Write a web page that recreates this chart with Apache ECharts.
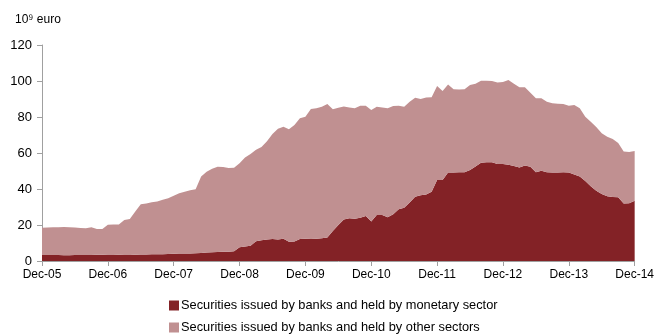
<!DOCTYPE html>
<html>
<head>
<meta charset="utf-8">
<script src="https://cdn.jsdelivr.net/npm/echarts@6/dist/echarts.min.js"></script>
<style>html,body{margin:0;padding:0;background:#fff;}#c{width:657px;height:334px;}</style>
</head>
<body>
<div id="c"></div>
<script>
// Monthly categories Dec-05 .. Dec-14
const monthNames = ['Jan','Feb','Mar','Apr','May','Jun','Jul','Aug','Sep','Oct','Nov','Dec'];
const categories = ['Dec-05'];
for (let y = 6; y <= 14; y++) {
  for (let m = 0; m < 12; m++) {
    categories.push(monthNames[m] + '-' + (y < 10 ? '0' + y : '' + y));
  }
}

const seriesNames = [
  'Securities issued by banks and held by monetary sector',
  'Securities issued by banks and held by other sectors'
];

// 10^9 euro
const monetarySector = [
  3.3,3.3,3.3,3.3,3.2,3.2,3.3,3.3,3.4,3.4,3.5,3.5,
  3.6,3.6,3.5,3.4,3.4,3.5,3.6,3.6,3.7,3.8,3.8,3.9,
  4.0,4.1,4.2,4.2,4.3,4.5,4.7,4.9,5.0,5.1,5.2,5.4,
  7.6,8.0,8.5,11.0,11.5,12.0,12.2,12.0,12.4,10.7,10.8,12.2,
  12.4,12.2,12.3,12.7,13.0,16.7,20.0,23.0,23.7,23.5,24.0,25.0,
  21.9,25.6,25.6,24.3,26.0,28.7,29.6,32.5,35.7,36.5,37.0,38.5,
  45.0,45.0,49.1,49.2,49.3,49.3,50.6,52.5,54.6,54.8,54.8,53.9,
  53.9,53.5,52.8,52.0,53.1,52.4,49.3,50.2,49.3,49.1,49.2,49.3,
  49.1,48.0,47.0,44.5,41.5,39.0,37.2,36.0,35.6,35.4,32.0,32.1,
  33.5
];
const otherSectors = [
  15.2,15.3,15.4,15.5,15.7,15.6,15.3,15.0,14.8,15.3,14.3,14.3,
  16.6,16.7,16.8,19.4,19.9,24.0,27.9,28.4,28.9,29.2,30.2,30.9,
  32.3,33.5,34.3,35.1,35.5,42.5,44.9,46.3,47.4,47.1,46.5,46.4,
  46.7,49.5,51.0,50.8,51.8,54.5,58.3,61.5,62.2,62.5,64.8,67.1,
  67.8,72.2,72.5,73.0,74.2,67.6,65.2,62.9,61.6,61.3,62.3,61.3,
  62.0,60.1,59.7,60.5,60.1,57.6,56.1,56.0,55.0,53.5,53.9,52.5,
  52.2,49.4,49.0,46.2,46.0,46.1,47.2,46.0,45.6,45.4,45.2,45.2,
  45.6,47.1,45.7,44.5,43.4,41.1,41.1,40.2,39.2,38.5,38.1,37.9,
  37.2,38.7,37.8,35.7,35.9,35.5,33.8,33.0,32.2,30.1,28.8,28.5,
  27.6
];

const yTicks = [0, 20, 40, 60, 80, 100, 120];
const unitLabel = '10\u2079 euro';

const chart = echarts.init(document.getElementById('c'), null, {renderer: 'canvas'});
const font = 'Arial, "Liberation Sans", sans-serif';
const legendBase = {
  orient: 'vertical',
  left: 169,
  itemWidth: 10, itemHeight: 10,
  icon: 'rect',
  padding: 0,
  textStyle: {fontSize: 12.8, color: '#000', fontFamily: font, padding: [0,0,0,-3]}
};
chart.setOption({
  animation: false,
  backgroundColor: '#ffffff',
  textStyle: {fontFamily: font},
  title: {
    text: unitLabel,
    left: 10, top: 9,
    textStyle: {fontSize: 12, fontWeight: 'normal', color: '#000', fontFamily: font}
  },
  legend: [
    Object.assign({}, legendBase, {top: 299, data: [seriesNames[0]]}),
    Object.assign({}, legendBase, {top: 321, data: [seriesNames[1]]})
  ],
  grid: {left: 42, right: 18, top: 45, bottom: 73},
  xAxis: {
    type: 'category',
    data: categories,
    boundaryGap: false,
    axisLine: {lineStyle: {color: '#a0a0a0', width: 1}},
    axisTick: {interval: 11, length: 5, lineStyle: {color: '#a0a0a0'}},
    axisLabel: {interval: 11, color: '#000', fontSize: 12, margin: 8, fontFamily: font},
    splitLine: {show: false}
  },
  yAxis: {
    type: 'value',
    min: yTicks[0], max: yTicks[yTicks.length - 1], interval: 20,
    axisLine: {show: true, lineStyle: {color: '#a0a0a0', width: 1}},
    axisTick: {show: true, length: 5, lineStyle: {color: '#a0a0a0'}},
    axisLabel: {color: '#000', fontSize: 13, margin: 10, fontFamily: font},
    splitLine: {show: false}
  },
  series: [
    {
      name: seriesNames[0], type: 'line', stack: 'total',
      data: monetarySector, showSymbol: false, symbol: 'none',
      lineStyle: {width: 0}, itemStyle: {color: '#832226'},
      areaStyle: {color: '#832226', opacity: 1}
    },
    {
      name: seriesNames[1], type: 'line', stack: 'total',
      data: otherSectors, showSymbol: false, symbol: 'none',
      lineStyle: {width: 0}, itemStyle: {color: '#c09091'},
      areaStyle: {color: '#c09091', opacity: 1}
    }
  ]
});
</script>
</body>
</html>
